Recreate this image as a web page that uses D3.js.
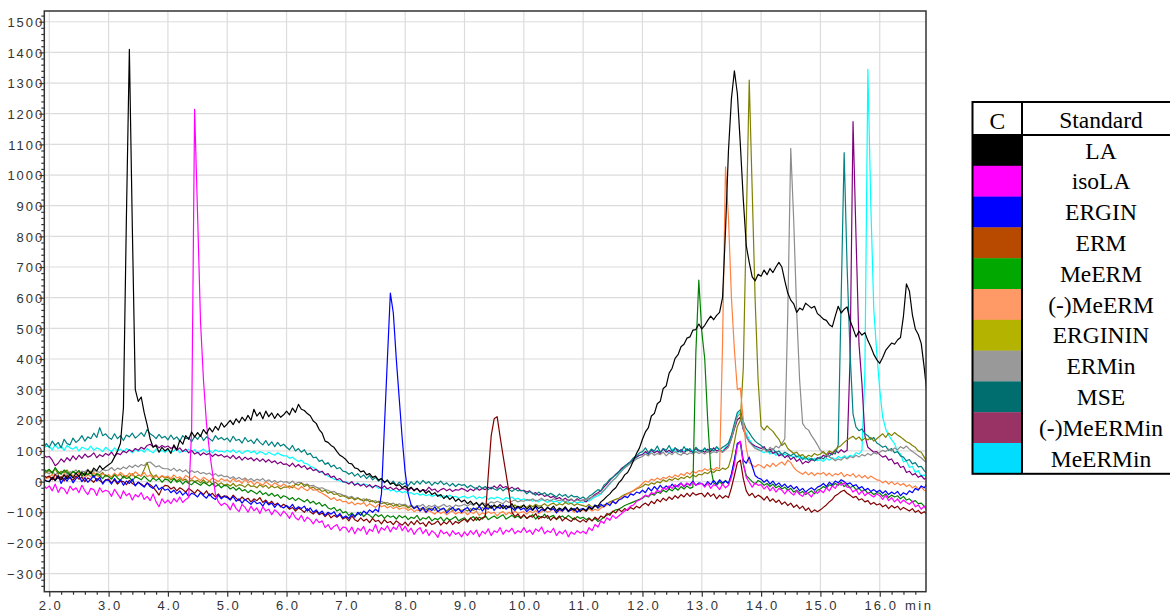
<!DOCTYPE html>
<html>
<head>
<meta charset="utf-8">
<script src="https://cdn.jsdelivr.net/npm/d3@7"></script>
<style>
  html, body { margin: 0; padding: 0; background: #fff; }
  svg { display: block; }
</style>
</head>
<body>
<svg id="chart" width="1170" height="613"></svg>
<script>
// Chromatogram traces sampled every 0.05 min.
// Each trace is stored as rows: the first row starts at 1.9 min, then one row per minute.
const rowStarts = [1.9, 2, 3, 4, 5, 6, 7, 8, 9, 10, 11, 12, 13, 14, 15, 16];
const STEP = 0.05;

const LA = [
  [8, 2],
  [0, 14, 3, 18, 6, 22, 9, 25, 12, 28, 17, 30, 20, 38, 26, 44, 35, 52, 40, 48],
  [55, 62, 80, 100, 125, 240, 860, 1410, 830, 300, 262, 276, 225, 185, 140, 112, 118, 96, 112, 100],
  [108, 92, 120, 104, 135, 122, 150, 138, 162, 146, 160, 148, 170, 156, 175, 162, 180, 168, 192, 178],
  [188, 200, 186, 205, 192, 210, 198, 216, 200, 236, 214, 226, 205, 230, 212, 224, 206, 222, 210, 218],
  [230, 218, 240, 226, 252, 236, 232, 222, 215, 198, 190, 170, 158, 132, 128, 118, 112, 98, 86, 80],
  [72, 60, 58, 45, 42, 32, 35, 22, 26, 14, 18, 5, 10, -2, 4, -8, -4, -14, -10, -20],
  [-14, -25, -18, -30, -22, -34, -26, -38, -30, -42, -36, -48, -42, -55, -46, -58, -50, -64, -56, -66],
  [-60, -72, -64, -75, -68, -80, -70, -82, -74, -86, -76, -84, -74, -88, -78, -85, -72, -88, -80, -86],
  [-76, -90, -80, -92, -78, -88, -82, -94, -84, -90, -80, -95, -86, -92, -82, -96, -86, -94, -84, -98],
  [-88, -96, -84, -90, -78, -80, -66, -58, -48, -40, -28, -20, -4, 6, 22, 30, 48, 70, 92, 110],
  [138, 162, 176, 214, 222, 254, 262, 304, 312, 354, 370, 402, 414, 440, 448, 468, 472, 494, 496, 514],
  [498, 510, 526, 540, 528, 542, 552, 600, 820, 1080, 1250, 1340, 1265, 1100, 920, 770, 715, 668, 655, 676],
  [670, 690, 675, 695, 682, 700, 715, 700, 655, 615, 592, 580, 552, 566, 560, 582, 574, 566, 572, 548],
  [540, 530, 526, 512, 505, 540, 572, 550, 562, 570, 525, 500, 472, 490, 478, 486, 460, 440, 415, 398],
  [386, 405, 428, 440, 452, 448, 462, 470, 540, 645, 622, 545, 498, 480, 450, 372, 280]
];

const isoLA = [
  [-10, -22],
  [-14, -30, -8, -35, -18, -24, -40, -15, -28, -20, -36, -12, -30, -42, -22, -26, -45, -20, -34, -28],
  [-32, -48, -25, -40, -55, -30, -46, -38, -60, -42, -50, -36, -58, -48, -62, -40, -66, -82, -56, -70],
  [-60, -72, -55, -66, -50, -68, -58, -52, 170, 1214, 870, 520, 330, 190, 100, 30, -40, -66, -78, -70],
  [-76, -92, -70, -88, -98, -74, -84, -100, -80, -95, -86, -104, -82, -96, -90, -108, -92, -100, -112, -96],
  [-106, -120, -100, -118, -125, -110, -130, -116, -124, -138, -122, -134, -128, -150, -140, -156, -146, -140, -160, -148],
  [-150, -165, -148, -170, -152, -160, -146, -172, -155, -162, -140, -168, -150, -158, -144, -164, -148, -156, -138, -160],
  [-146, -164, -152, -172, -158, -150, -170, -156, -176, -160, -168, -182, -158, -170, -164, -178, -160, -172, -166, -180],
  [-164, -176, -160, -172, -158, -180, -162, -170, -154, -176, -160, -166, -150, -172, -158, -164, -152, -170, -160, -166],
  [-150, -166, -158, -172, -154, -162, -148, -170, -160, -166, -152, -176, -162, -170, -158, -180, -164, -172, -160, -168],
  [-162, -170, -150, -160, -140, -148, -128, -136, -118, -126, -110, -120, -112, -104, -96, -90, -80, -76, -64, -60],
  [-52, -44, -48, -36, -40, -28, -34, -20, -26, -14, -22, -10, -18, -6, -16, -4, -14, -2, -12, -8],
  [-6, -18, -4, -22, -10, -14, -26, -8, -20, -12, 15, 55, 118, 132, 60, 14, -2, -18, -4, -12],
  [-10, -24, -14, -30, -18, -34, -22, -28, -40, -26, -36, -44, -30, -42, -48, -34, -40, -50, -32, -38],
  [-28, -36, -20, -30, -14, -22, -6, -12, -4, -18, -20, -34, -26, -42, -30, -46, -36, -44, -50, -40],
  [-46, -58, -44, -62, -52, -66, -56, -70, -60, -68, -74, -64, -82, -76, -90, -80, -96]
];

const ERGIN = [
  [8, 2],
  [0, 14, 4, 20, -6, 12, 2, 16, -4, 10, 18, 0, 12, -2, 8, 20, 2, 14, -8, 6],
  [4, -8, 10, -4, 6, -12, 2, -6, 8, -14, -2, -10, -18, -4, -16, -22, -10, -26, -18, -28],
  [-24, -36, -28, -40, -30, -44, -34, -48, -38, -42, -50, -36, -46, -54, -40, -52, -58, -44, -56, -48],
  [-52, -60, -48, -64, -56, -70, -58, -66, -74, -62, -72, -68, -80, -64, -76, -70, -84, -72, -80, -86],
  [-78, -86, -74, -90, -82, -88, -80, -96, -86, -100, -92, -104, -96, -110, -100, -106, -98, -114, -104, -118],
  [-112, -120, -106, -116, -100, -110, -96, -104, -92, -100, -90, -98, -40, 180, 400, 615, 550, 400, 270, 140],
  [30, -40, -76, -88, -80, -96, -84, -100, -88, -94, -82, -98, -90, -86, -102, -92, -84, -96, -88, -100],
  [-90, -84, -98, -86, -92, -80, -96, -84, -90, -78, -94, -82, -88, -76, -90, -80, -86, -94, -82, -92],
  [-86, -98, -88, -94, -82, -100, -90, -96, -84, -92, -88, -102, -90, -96, -86, -98, -92, -88, -100, -90],
  [-88, -94, -80, -90, -76, -86, -74, -82, -70, -78, -64, -72, -60, -56, -48, -52, -40, -44, -34, -38],
  [-28, -36, -20, -30, -16, -26, -12, -24, -14, -22, -8, -18, -12, -4, -16, -6, -10, 2, -12, -4],
  [-6, -14, 0, -10, 4, -8, 6, -4, 2, -6, 25, 70, 125, 130, 70, 60, 80, 50, 20, 12],
  [8, -2, 6, -8, 2, -12, -4, -16, -8, -20, -12, -24, -16, -30, -22, -34, -26, -20, -28, -18],
  [-14, -6, -16, -2, -10, 2, -4, 6, 0, -8, -4, -14, -10, -22, -16, -28, -22, -32, -26, -34],
  [-28, -38, -30, -42, -34, -40, -32, -46, -36, -42, -30, -36, -22, -28, -14, -20, -6]
];

const ERM = [
  [22, 14],
  [18, 6, 24, 10, 16, 2, 20, 12, 4, 18, 8, 14, 0, 12, 6, -2, 10, 4, -4, 6],
  [8, -4, 6, -8, 2, 0, -10, 4, -6, -12, -2, -8, -16, -4, -10, -18, -30, -44, -22, -12],
  [-14, -24, -18, -30, -20, -26, -34, -22, -30, -38, -26, -34, -42, -30, -46, -38, -50, -40, -52, -46],
  [-48, -58, -44, -54, -62, -50, -60, -54, -66, -56, -62, -52, -68, -60, -72, -64, -76, -70, -82, -74],
  [-80, -90, -84, -96, -86, -92, -100, -88, -98, -106, -96, -108, -102, -114, -104, -118, -110, -116, -108, -122],
  [-116, -128, -112, -124, -130, -118, -128, -122, -134, -120, -130, -126, -138, -124, -134, -130, -140, -128, -136, -142],
  [-132, -144, -130, -140, -126, -138, -134, -146, -130, -140, -136, -128, -142, -132, -138, -126, -140, -130, -136, -128],
  [-122, -132, -118, -128, -116, -126, -118, -115, 20, 150, 205, 212, 147, 85, 25, -35, -100, -114, -106, -118],
  [-108, -120, -112, -116, -104, -122, -114, -118, -110, -126, -116, -122, -112, -128, -118, -124, -130, -118, -126, -132],
  [-124, -132, -120, -128, -116, -124, -112, -118, -104, -110, -96, -102, -90, -98, -88, -94, -84, -90, -80, -86],
  [-76, -70, -78, -64, -72, -58, -66, -54, -62, -50, -58, -46, -54, -42, -50, -38, -48, -36, -44, -40],
  [-38, -50, -36, -48, -40, -56, -44, -54, -46, -52, -20, 20, 62, 70, 10, -30, -46, -38, -52, -44],
  [-50, -60, -48, -64, -56, -68, -60, -74, -66, -78, -70, -84, -76, -88, -80, -94, -86, -100, -92, -98],
  [-92, -84, -76, -66, -58, -46, -40, -32, -28, -38, -44, -52, -48, -60, -56, -66, -62, -74, -68, -76],
  [-72, -82, -76, -88, -78, -86, -80, -92, -84, -90, -96, -88, -100, -94, -104, -98, -108]
];

const MeERM = [
  [42, 34],
  [40, 28, 46, 32, 24, 38, 30, 20, 34, 26, 36, 18, 28, 22, 30, 14, 24, 20, 10, 22],
  [16, 8, 22, 12, 4, 18, 10, 14, 2, 16, 12, 6, 18, 8, 0, 12, 4, 10, -2, 8],
  [6, -4, 10, -2, 4, -8, 2, -6, -10, 0, -6, -12, -2, -8, -14, -6, -16, -10, -20, -12],
  [-14, -24, -18, -28, -20, -30, -26, -36, -28, -34, -40, -30, -42, -36, -46, -38, -48, -42, -54, -46],
  [-50, -58, -52, -62, -54, -60, -66, -58, -70, -64, -74, -68, -80, -74, -86, -90, -84, -96, -90, -102],
  [-98, -110, -102, -112, -106, -100, -114, -104, -110, -118, -106, -114, -108, -120, -110, -116, -112, -122, -110, -118],
  [-112, -124, -116, -120, -110, -126, -118, -122, -114, -128, -120, -124, -116, -130, -118, -126, -120, -114, -128, -122],
  [-118, -128, -120, -114, -126, -116, -122, -110, -124, -118, -112, -120, -114, -108, -122, -116, -110, -118, -112, -120],
  [-110, -120, -114, -108, -122, -112, -118, -106, -120, -114, -110, -124, -116, -112, -120, -110, -118, -124, -114, -120],
  [-116, -124, -118, -128, -120, -130, -124, -116, -110, -104, -98, -92, -90, -84, -78, -74, -70, -66, -62, -58],
  [-54, -46, -50, -40, -44, -34, -38, -28, -34, -24, -30, -20, -28, -16, -24, -14, -22, -18, 420, 657],
  [490, 400, 200, 46, -4, -12, 0, -10, 4, -6, 20, 70, 122, 130, 56, 20, 10, 0, -8, 4],
  [-2, -12, -6, -16, -8, -20, -14, -24, -18, -28, -22, -34, -28, -38, -32, -42, -36, -30, -40, -28],
  [-24, -16, -22, -10, -14, -6, -12, -2, -16, -10, -20, -14, -26, -22, -32, -26, -38, -34, -42, -36],
  [-38, -48, -40, -52, -44, -50, -46, -56, -48, -60, -56, -66, -62, -72, -70, -80, -86]
];

const negMeERM = [
  [18, 10],
  [14, 24, 8, 20, 12, 26, 16, 10, 22, 14, 28, 18, 12, 24, 16, 30, 20, 14, 26, 18],
  [22, 14, 28, 18, 30, 22, 16, 28, 20, 32, 24, 18, 30, 16, 22, 10, 18, 12, 20, 14],
  [18, 10, 22, 12, 16, 6, 20, 14, 8, 18, 10, 4, 14, 8, 2, 12, 6, 0, 10, 4],
  [6, -2, 10, 0, 4, -6, 8, -4, 2, -10, -2, -6, -12, 0, -8, -14, -4, -10, -16, -8],
  [-14, -22, -12, -20, -26, -16, -24, -30, -20, -28, -26, -34, -38, -44, -50, -58, -52, -62, -58, -66],
  [-64, -72, -66, -76, -70, -74, -68, -80, -72, -78, -84, -74, -82, -78, -86, -80, -88, -82, -90, -86],
  [-86, -94, -88, -98, -92, -96, -90, -102, -94, -100, -106, -96, -104, -98, -108, -100, -96, -106, -100, -104],
  [-98, -108, -100, -104, -96, -110, -102, -106, -98, -104, -100, -112, -102, -98, -108, -100, -106, -96, -104, -100],
  [-98, -106, -96, -102, -94, -104, -98, -92, -100, -96, -90, -102, -94, -98, -88, -96, -92, -100, -90, -96],
  [-92, -98, -88, -96, -90, -94, -86, -82, -76, -72, -66, -70, -58, -52, -46, -40, -36, -28, -22, -16],
  [-6, 2, -2, 8, 4, 12, 6, 14, 10, 18, 12, 22, 16, 26, 20, 30, 24, 34, 28, 36],
  [34, 42, 36, 44, 38, 46, 42, 450, 1027, 860, 600, 430, 300, 305, 200, 110, 62, 54, 48, 56],
  [52, 44, 56, 48, 60, 50, 58, 64, 54, 70, 62, 46, 36, 30, 24, 32, 22, 30, 20, 28],
  [24, 30, 20, 28, 18, 26, 22, 30, 16, 24, 18, 26, 14, 22, 12, 20, 10, 18, 12, 6],
  [4, -4, 2, -8, 0, -10, -4, -12, -6, -16, -10, -20, -14, -24, -18, -28, -32]
];

const ERGININ = [
  [38, 30],
  [36, 28, 42, 24, 34, 30, 38, 22, 32, 26, 36, 20, 30, 24, 34, 18, 28, 22, 30, 16],
  [22, 14, 26, 18, 24, 12, 20, 16, 26, 14, 22, 18, 40, 62, 30, 16, 22, 10, 18, 12],
  [14, 6, 12, 2, 10, 4, 8, -2, 6, 0, 4, -4, 6, -6, 2, -8, -2, -10, -4, -12],
  [-8, -14, -6, -16, -10, -12, -18, -8, -16, -14, -20, -10, -18, -12, -22, -14, -20, -16, -24, -18],
  [-18, -14, -20, -8, -12, -4, -16, -10, -22, -18, -26, -24, -32, -28, -38, -34, -42, -40, -48, -46],
  [-50, -56, -52, -60, -54, -58, -64, -56, -66, -62, -70, -64, -72, -68, -76, -72, -80, -74, -82, -78],
  [-78, -86, -80, -88, -82, -90, -84, -92, -86, -88, -94, -84, -92, -88, -96, -86, -94, -90, -88, -94],
  [-90, -96, -88, -94, -86, -92, -84, -90, -82, -88, -80, -86, -82, -78, -88, -80, -84, -76, -86, -80],
  [-78, -84, -76, -82, -74, -80, -78, -72, -80, -74, -70, -78, -72, -76, -68, -74, -70, -78, -72, -76],
  [-78, -82, -74, -84, -78, -86, -80, -76, -72, -66, -62, -58, -54, -48, -42, -38, -34, -30, -24, -20],
  [-16, -8, -12, -4, -8, 0, -4, 6, 0, 8, 4, 12, 6, 14, 10, 18, 12, 22, 16, 24],
  [22, 30, 26, 34, 30, 38, 36, 44, 40, 48, 80, 130, 180, 200, 370, 840, 1310, 950, 590, 330],
  [180, 168, 182, 172, 164, 150, 138, 118, 126, 108, 100, 92, 96, 84, 88, 78, 86, 82, 92, 86],
  [90, 98, 88, 100, 94, 104, 112, 118, 128, 136, 142, 148, 138, 146, 134, 142, 136, 144, 132, 140],
  [148, 156, 144, 158, 150, 160, 152, 146, 138, 130, 126, 118, 112, 100, 96, 80, 62]
];

const ERMin = [
  [24, 30],
  [26, 34, 22, 30, 28, 36, 24, 32, 30, 38, 26, 34, 32, 40, 28, 36, 34, 30, 40, 36],
  [38, 46, 36, 44, 40, 48, 42, 52, 46, 54, 48, 56, 52, 62, 64, 56, 48, 52, 44, 42],
  [42, 36, 44, 34, 40, 32, 38, 28, 36, 30, 34, 26, 30, 24, 28, 20, 26, 18, 22, 16],
  [18, 10, 16, 8, 14, 6, 12, 4, 10, 2, 8, 4, 10, 0, 6, -2, 4, -4, 2, -2],
  [0, -6, 2, -8, -2, -4, -10, -8, -14, -12, -18, -22, -20, -26, -28, -34, -32, -38, -40, -44],
  [-46, -52, -48, -56, -52, -60, -56, -62, -58, -66, -62, -68, -64, -70, -68, -74, -70, -78, -72, -76],
  [-74, -82, -76, -84, -78, -80, -74, -86, -78, -82, -76, -84, -80, -74, -82, -78, -86, -76, -80, -78],
  [-74, -80, -72, -78, -70, -76, -68, -74, -72, -66, -70, -64, -68, -72, -62, -68, -64, -60, -66, -62],
  [-64, -58, -62, -56, -64, -60, -54, -62, -58, -64, -56, -60, -62, -58, -66, -60, -56, -64, -60, -62],
  [-62, -56, -58, -50, -46, -40, -38, -28, -18, -6, 4, 12, 24, 34, 44, 52, 60, 66, 74, 78],
  [82, 90, 84, 94, 86, 92, 88, 96, 84, 94, 88, 98, 90, 86, 96, 88, 94, 90, 98, 92],
  [96, 90, 100, 92, 98, 94, 102, 96, 104, 112, 140, 176, 212, 222, 170, 146, 130, 118, 108, 104],
  [100, 108, 96, 112, 104, 116, 110, 124, 140, 553, 1087, 850, 553, 330, 190, 175, 168, 150, 136, 120],
  [102, 94, 88, 80, 76, 68, 74, 70, 80, 74, 82, 78, 86, 80, 88, 84, 92, 86, 94, 90],
  [96, 102, 98, 106, 100, 110, 104, 114, 108, 116, 106, 98, 92, 84, 78, 68, 60]
];

const MSE = [
  [110, 124],
  [112, 132, 118, 128, 110, 138, 124, 120, 142, 128, 136, 150, 132, 146, 140, 158, 144, 176, 150, 156],
  [144, 138, 156, 140, 150, 134, 152, 146, 158, 142, 150, 160, 148, 170, 156, 150, 140, 154, 142, 148],
  [136, 152, 138, 146, 132, 150, 140, 144, 130, 148, 138, 152, 134, 146, 140, 132, 150, 138, 144, 136],
  [142, 130, 148, 134, 138, 126, 144, 130, 136, 124, 140, 128, 120, 134, 118, 130, 114, 128, 116, 122],
  [112, 104, 118, 100, 108, 96, 104, 88, 92, 78, 80, 66, 70, 56, 62, 48, 54, 42, 46, 34],
  [32, 24, 30, 18, 26, 14, 22, 10, 20, 6, 14, 2, 10, -4, 6, -8, 2, -12, -2, -10],
  [-4, -14, 0, -10, 2, -8, 4, -6, 0, -12, -2, -8, 2, -10, -4, -14, -6, -16, -8, -12],
  [-10, -20, -12, -18, -24, -14, -22, -16, -26, -18, -24, -28, -20, -30, -22, -26, -32, -24, -30, -28],
  [-30, -40, -32, -38, -44, -34, -42, -36, -46, -38, -44, -50, -40, -48, -42, -52, -44, -50, -48, -56],
  [-50, -58, -48, -42, -34, -26, -30, -12, -4, 8, 14, 22, 32, 40, 50, 58, 66, 78, 84, 94],
  [98, 110, 94, 106, 100, 116, 96, 108, 102, 118, 98, 110, 104, 96, 114, 100, 108, 94, 112, 102],
  [98, 110, 96, 108, 100, 114, 104, 112, 118, 126, 152, 190, 226, 234, 196, 172, 160, 144, 132, 124],
  [118, 108, 104, 96, 108, 94, 100, 88, 96, 90, 84, 92, 80, 86, 72, 80, 70, 76, 68, 74],
  [80, 74, 86, 82, 94, 90, 120, 600, 1073, 700, 420, 220, 178, 166, 172, 156, 150, 138, 144, 126],
  [120, 112, 116, 102, 108, 94, 98, 84, 80, 68, 72, 58, 62, 48, 50, 36, 26]
];

const negMeERMin = [
  [88, 80],
  [82, 70, 52, 60, 74, 64, 78, 68, 84, 72, 86, 76, 90, 80, 84, 94, 78, 88, 82, 92],
  [86, 96, 82, 92, 88, 100, 94, 104, 98, 108, 102, 112, 106, 118, 122, 114, 120, 110, 118, 112],
  [116, 108, 114, 102, 110, 98, 106, 94, 102, 90, 96, 86, 94, 88, 92, 82, 90, 84, 88, 80],
  [84, 76, 86, 74, 82, 70, 80, 72, 78, 68, 76, 66, 74, 64, 72, 62, 68, 58, 64, 56],
  [58, 50, 60, 48, 56, 46, 52, 40, 46, 36, 40, 30, 34, 22, 26, 14, 18, 6, 10, 0],
  [-2, -8, 0, -12, -6, -14, -8, -18, -10, -20, -12, -16, -22, -14, -24, -18, -26, -20, -28, -22],
  [-24, -30, -20, -28, -22, -32, -26, -30, -18, -28, -24, -34, -26, -22, -30, -24, -32, -26, -28, -22],
  [-26, -32, -24, -30, -20, -28, -22, -26, -18, -24, -14, -22, -10, -20, -16, -24, -18, -26, -20, -30],
  [-28, -34, -30, -40, -36, -44, -40, -48, -44, -52, -48, -56, -52, -60, -54, -62, -58, -64, -56, -62],
  [-60, -66, -56, -50, -42, -36, -30, -18, -8, 4, 14, 24, 32, 44, 50, 58, 64, 74, 80, 86],
  [88, 98, 90, 104, 94, 100, 92, 108, 96, 102, 94, 110, 98, 104, 92, 106, 100, 96, 108, 100],
  [102, 96, 106, 98, 110, 100, 104, 96, 108, 116, 140, 172, 202, 210, 170, 148, 130, 122, 116, 112],
  [108, 114, 100, 106, 92, 98, 84, 90, 78, 86, 72, 80, 66, 74, 58, 66, 62, 72, 68, 78],
  [76, 86, 80, 94, 88, 102, 94, 104, 96, 102, 400, 1174, 800, 450, 320, 150, 112, 104, 96, 98],
  [88, 80, 84, 70, 74, 58, 62, 46, 50, 30, 34, 22, 26, 14, 20, 8, 12]
];

const MeERMin = [
  [108, 116],
  [114, 104, 120, 108, 116, 102, 118, 110, 106, 114, 100, 112, 108, 104, 116, 102, 110, 106, 98, 112],
  [104, 98, 110, 100, 106, 96, 108, 102, 94, 106, 98, 104, 96, 108, 100, 94, 106, 98, 102, 96],
  [104, 96, 100, 108, 94, 102, 98, 106, 96, 104, 92, 100, 106, 96, 102, 94, 104, 98, 100, 96],
  [102, 96, 104, 94, 100, 92, 98, 102, 94, 100, 90, 98, 94, 88, 96, 90, 86, 94, 88, 84],
  [84, 76, 80, 72, 66, 70, 60, 58, 50, 46, 40, 34, 30, 24, 18, 14, 8, 6, 2, -2],
  [0, -6, -2, -10, -4, -12, -8, -10, -14, -18, -14, -22, -18, -26, -22, -30, -26, -34, -30, -36],
  [-32, -38, -36, -42, -38, -44, -40, -46, -42, -48, -44, -42, -50, -46, -52, -44, -50, -48, -54, -50],
  [-48, -54, -50, -46, -56, -50, -54, -48, -58, -52, -56, -50, -54, -60, -52, -56, -50, -58, -54, -60],
  [-56, -62, -58, -64, -60, -66, -58, -62, -68, -60, -66, -64, -70, -62, -68, -66, -72, -64, -70, -66],
  [-68, -62, -64, -56, -50, -46, -40, -30, -18, -8, 4, 12, 26, 36, 46, 56, 62, 72, 78, 86],
  [90, 96, 88, 100, 94, 102, 96, 104, 98, 94, 106, 100, 96, 104, 98, 108, 100, 102, 96, 104],
  [100, 106, 98, 108, 102, 110, 104, 100, 112, 120, 148, 184, 220, 228, 180, 158, 138, 124, 112, 106],
  [100, 94, 102, 90, 96, 86, 92, 84, 90, 80, 86, 78, 84, 76, 80, 72, 78, 70, 76, 68],
  [72, 66, 76, 70, 78, 72, 82, 76, 84, 78, 86, 82, 94, 90, 102, 360, 1345, 900, 560, 420],
  [300, 210, 172, 152, 136, 124, 98, 90, 64, 68, 46, 50, 30, 36, 18, 22, 10]
];

// Legend names, trace colours and legend swatch colours (same order)
const seriesNames = ["LA", "isoLA", "ERGIN", "ERM", "MeERM", "(-)MeERM", "ERGININ", "ERMin", "MSE", "(-)MeERMin", "MeERMin"];
const seriesData = [LA, isoLA, ERGIN, ERM, MeERM, negMeERM, ERGININ, ERMin, MSE, negMeERMin, MeERMin];
const lineColors = ["#000000", "#ff00ff", "#0000ff", "#800000", "#008000", "#ff8040", "#808000", "#8c8c8c", "#008080", "#800080", "#00ffff"];
const swatchColors = ["#000000", "#ff00ff", "#0000ff", "#b84a00", "#00a800", "#ff9966", "#b4b400", "#999999", "#006e6e", "#993366", "#00ddff"];

const xTicks = [2, 3, 4, 5, 6, 7, 8, 9, 10, 11, 12, 13, 14, 15, 16];
const yTicks = [-300, -200, -100, 0, 100, 200, 300, 400, 500, 600, 700, 800, 900, 1000, 1100, 1200, 1300, 1400, 1500];

// ---------- drawing ----------
const svg = d3.select("#chart");
const plot = { left: 44.3, right: 926, top: 11, bottom: 591.7 };

const x = d3.scaleLinear().domain([1.916, 16.78]).range([plot.left, plot.right]);
const y = d3.scaleLinear().domain([-359, 1535]).range([plot.bottom, plot.top]);

function toPoints(rows) {
  const pts = [];
  rows.forEach((row, k) => row.forEach((v, j) => pts.push([rowStarts[k] + j * STEP, v])));
  return pts;
}

const axisFont = "'Liberation Sans', Arial, sans-serif";
const axisColor = "#333";

// grid
const grid = svg.append("g").attr("stroke", "#dcdcdc").attr("stroke-width", 1.2);
grid.selectAll("line.v").data(xTicks).join("line")
  .attr("x1", d => x(d)).attr("x2", d => x(d))
  .attr("y1", plot.top).attr("y2", plot.bottom);
grid.selectAll("line.h").data(yTicks).join("line")
  .attr("x1", plot.left).attr("x2", plot.right)
  .attr("y1", d => y(d)).attr("y2", d => y(d));

// traces
svg.append("clipPath").attr("id", "plotClip").append("rect")
  .attr("x", plot.left).attr("y", plot.top)
  .attr("width", plot.right - plot.left).attr("height", plot.bottom - plot.top);

const line = d3.line().x(d => x(d[0])).y(d => y(d[1]));
const traces = svg.append("g").attr("clip-path", "url(#plotClip)");
const order = d3.range(seriesData.length).reverse();
order.forEach(i => {
  traces.append("path")
    .datum(toPoints(seriesData[i]))
    .attr("fill", "none")
    .attr("stroke", lineColors[i])
    .attr("stroke-width", 1.2)
    .attr("stroke-linejoin", "round")
    .attr("d", line);
});

// frame
svg.append("rect")
  .attr("x", plot.left).attr("y", plot.top)
  .attr("width", plot.right - plot.left).attr("height", plot.bottom - plot.top)
  .attr("fill", "none").attr("stroke", axisColor).attr("stroke-width", 1.5);

// y axis
const yMinor = d3.range(-340, 1540, 20).filter(v => v % 100 !== 0);
const yAxisMinor = d3.axisLeft(y).tickValues(yMinor).tickSize(3).tickFormat("");
const yAxis = d3.axisLeft(y).tickValues(yTicks).tickSize(5).tickFormat(d3.format("d"));
const gyMinor = svg.append("g").attr("transform", `translate(${plot.left},0)`).call(yAxisMinor);
const gy = svg.append("g").attr("transform", `translate(${plot.left},0)`).call(yAxis);
[gy, gyMinor].forEach(g => {
  g.select(".domain").remove();
  g.selectAll("line").attr("stroke", axisColor).attr("stroke-width", 1.2);
});
gy.selectAll("text")
  .attr("x", 0).attr("dy", "0.36em")
  .attr("fill", axisColor)
  .style("font-family", axisFont).style("font-size", "13px").style("letter-spacing", "2px");

// x axis
const xMinor = d3.range(2, 16.7, 0.2).filter(v => Math.abs(v - Math.round(v)) > 0.01);
const xAxisMinor = d3.axisBottom(x).tickValues(xMinor).tickSize(3).tickFormat("");
const xAxis = d3.axisBottom(x).tickValues(xTicks).tickSize(5).tickFormat(d3.format(".1f"));
const gxMinor = svg.append("g").attr("transform", `translate(0,${plot.bottom})`).call(xAxisMinor);
const gx = svg.append("g").attr("transform", `translate(0,${plot.bottom})`).call(xAxis);
[gx, gxMinor].forEach(g => {
  g.select(".domain").remove();
  g.selectAll("line").attr("stroke", axisColor).attr("stroke-width", 1.2);
});
const xLabelY = 18;
gx.selectAll("text")
  .attr("y", xLabelY).attr("dy", 0).attr("dx", "1px")
  .attr("fill", axisColor)
  .style("font-family", axisFont).style("font-size", "13px").style("letter-spacing", "2px");

svg.append("text")
  .attr("x", 905).attr("y", plot.bottom + xLabelY)
  .attr("fill", axisColor)
  .style("font-family", axisFont).style("font-size", "13px").style("letter-spacing", "2.5px")
  .text("min");

// legend table
const lg = { left: 972.5, top: 102, header: 33, row: 30.8, divider: 1022, right: 1180, textX: 1101 };
const lgBottom = lg.top + lg.header + lg.row * seriesNames.length;
const legend = svg.append("g");
legend.selectAll("rect.sw").data(seriesNames).join("rect")
  .attr("x", lg.left).attr("y", (d, i) => lg.top + lg.header + i * lg.row)
  .attr("width", lg.divider - lg.left).attr("height", lg.row + 0.3)
  .attr("fill", (d, i) => swatchColors[i]);
legend.append("rect")
  .attr("x", lg.left).attr("y", lg.top)
  .attr("width", lg.right - lg.left).attr("height", lgBottom - lg.top)
  .attr("fill", "none").attr("stroke", "#000").attr("stroke-width", 2);
legend.append("line")
  .attr("x1", lg.left).attr("x2", lg.right)
  .attr("y1", lg.top + lg.header).attr("y2", lg.top + lg.header)
  .attr("stroke", "#000").attr("stroke-width", 2);
legend.append("line")
  .attr("x1", lg.divider).attr("x2", lg.divider)
  .attr("y1", lg.top).attr("y2", lgBottom)
  .attr("stroke", "#000").attr("stroke-width", 2);

const serif = "'Liberation Serif', 'Times New Roman', serif";
legend.append("text").attr("x", (lg.left + lg.divider) / 2).attr("y", lg.top + 26.5)
  .attr("text-anchor", "middle").style("font-family", serif).style("font-size", "23.5px").text("C");
legend.append("text").attr("x", lg.textX).attr("y", lg.top + 25.5)
  .attr("text-anchor", "middle").style("font-family", serif).style("font-size", "23.5px").text("Standard");
legend.selectAll("text.name").data(seriesNames).join("text")
  .attr("class", "name")
  .attr("x", lg.textX)
  .attr("y", (d, i) => lg.top + lg.header + i * lg.row + 23.5)
  .attr("text-anchor", "middle")
  .style("font-family", serif).style("font-size", "23.5px")
  .text(d => d);
</script>
</body>
</html>
